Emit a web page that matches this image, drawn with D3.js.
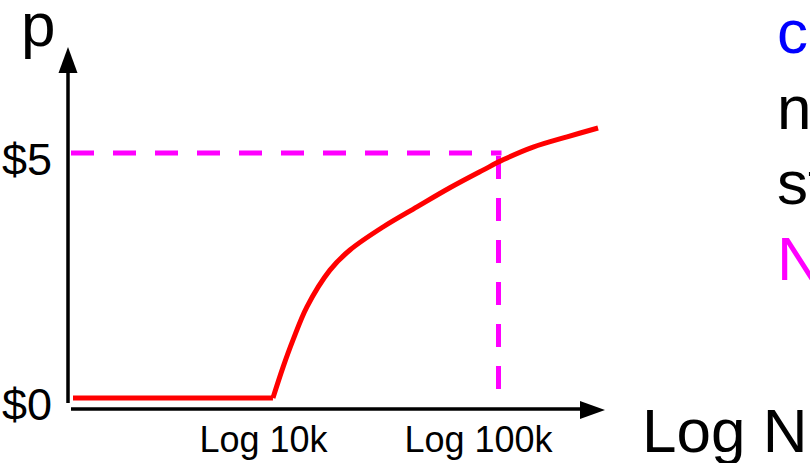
<!DOCTYPE html>
<html>
<head>
<meta charset="utf-8">
<script src="https://cdn.jsdelivr.net/npm/d3@7"></script>
<style>
  html, body { margin: 0; padding: 0; background: #fff; overflow: hidden; }
  svg { display: block; font-family: "Liberation Sans", Arial, sans-serif; }
</style>
</head>
<body>
<svg width="810" height="463"></svg>
<script>
// Price curve: x in log10(N), y in dollars
const curveLogN = [3.107, 4.037, 4.084, 4.130, 4.195, 4.302, 4.395, 4.549, 4.707, 4.860, 5.014, 5.107, 5.247, 5.405, 5.549];
const curvePrice = [0, 0, 0.63, 1.18, 1.86, 2.61, 3.02, 3.49, 3.90, 4.29, 4.65, 4.86, 5.12, 5.33, 5.51];
const riseStart = 1; // index where the curve leaves the $0 floor

// Tick labels
const xTicks = [4, 5];
const xTickLabels = ['Log 10k', 'Log 100k'];
const yTicks = [0, 5];
const yTickLabels = ['$0', '$5'];

// Dashed guide point (N = 100k, price = $5)
const guideLogN = 5.1;
const guidePrice = 5;

// Side notes (cut off at the right edge)
const noteTexts = ['c', 'n', 'st', 'N'];
const noteColors = ['#0000ff', '#000000', '#000000', '#ff00ff'];

const svg = d3.select('svg');

const x = d3.scaleLinear().domain([4, 5]).range([265, 480]);
const y = d3.scaleLinear().domain([0, 5]).range([398, 153]);

// Axes lines with arrowheads
const axisX0 = 68, axisY0 = 409;
svg.append('line')
  .attr('x1', axisX0).attr('y1', 403)
  .attr('x2', axisX0).attr('y2', 62)
  .attr('stroke', '#000').attr('stroke-width', 3.5);
svg.append('path')
  .attr('d', `M${axisX0},47 L${axisX0 - 9.5},73 L${axisX0 + 9.5},73 Z`)
  .attr('fill', '#000');

svg.append('line')
  .attr('x1', 71).attr('y1', axisY0)
  .attr('x2', 590).attr('y2', axisY0)
  .attr('stroke', '#000').attr('stroke-width', 3.5);
svg.append('path')
  .attr('d', `M605,${axisY0 + 1} L580,${axisY0 - 8} L580,${axisY0 + 10} Z`)
  .attr('fill', '#000');

// Tick labels through d3 axes (no tick marks, no domain)
const xAxis = svg.append('g')
  .attr('transform', `translate(-2,${axisY0})`)
  .call(d3.axisBottom(x).tickValues(xTicks).tickSize(0)
    .tickFormat((d, i) => xTickLabels[i]));
xAxis.select('.domain').remove();
xAxis.selectAll('text')
  .attr('dy', null).attr('y', 43)
  .attr('font-size', 36).attr('fill', '#000')
  .attr('font-family', '"Liberation Sans", Arial, sans-serif');

const yAxis = svg.append('g')
  .attr('transform', 'translate(52,0)')
  .call(d3.axisLeft(y).tickValues(yTicks).tickSize(0)
    .tickFormat((d, i) => yTickLabels[i]));
yAxis.select('.domain').remove();
yAxis.selectAll('text')
  .attr('x', 0).attr('dy', '0.47em')
  .attr('font-size', 45).attr('fill', '#000')
  .attr('font-family', '"Liberation Sans", Arial, sans-serif');

// Axis titles
svg.append('text').attr('x', 21).attr('y', 46)
  .attr('font-size', 62).text('p');
svg.append('text').attr('x', 642).attr('y', 452)
  .attr('font-size', 62).text('Log N');

// Dashed guides
const guide = svg.append('g')
  .attr('stroke', '#ff00ff').attr('stroke-width', 5)
  .attr('stroke-dasharray', '23,19').attr('fill', 'none');
guide.append('line')
  .attr('x1', axisX0 + 3).attr('y1', y(guidePrice))
  .attr('x2', x(guideLogN)).attr('y2', y(guidePrice));
guide.append('line')
  .attr('x1', x(guideLogN) - 3).attr('y1', y(guidePrice) + 3)
  .attr('x2', x(guideLogN) - 3).attr('y2', y(0));

// Price curve
const pts = curveLogN.map((d, i) => [d, curvePrice[i]]);
const flat = d3.line().x(d => x(d[0])).y(d => y(d[1]));
const rise = d3.line().x(d => x(d[0])).y(d => y(d[1])).curve(d3.curveCatmullRom.alpha(0.5));
svg.append('path').attr('d', flat(pts.slice(0, riseStart + 1)))
  .attr('fill', 'none').attr('stroke', '#ff0000').attr('stroke-width', 5);
svg.append('path').attr('d', rise(pts.slice(riseStart)))
  .attr('fill', 'none').attr('stroke', '#ff0000').attr('stroke-width', 5)
  .attr('stroke-linejoin', 'round');

// Side notes
svg.selectAll('.note')
  .data(noteTexts)
  .enter().append('text')
    .attr('class', 'note')
    .attr('x', 777)
    .attr('y', (d, i) => 53 + i * 75.5)
    .attr('font-size', 62)
    .attr('fill', (d, i) => noteColors[i])
    .text(d => d);
</script>
</body>
</html>
